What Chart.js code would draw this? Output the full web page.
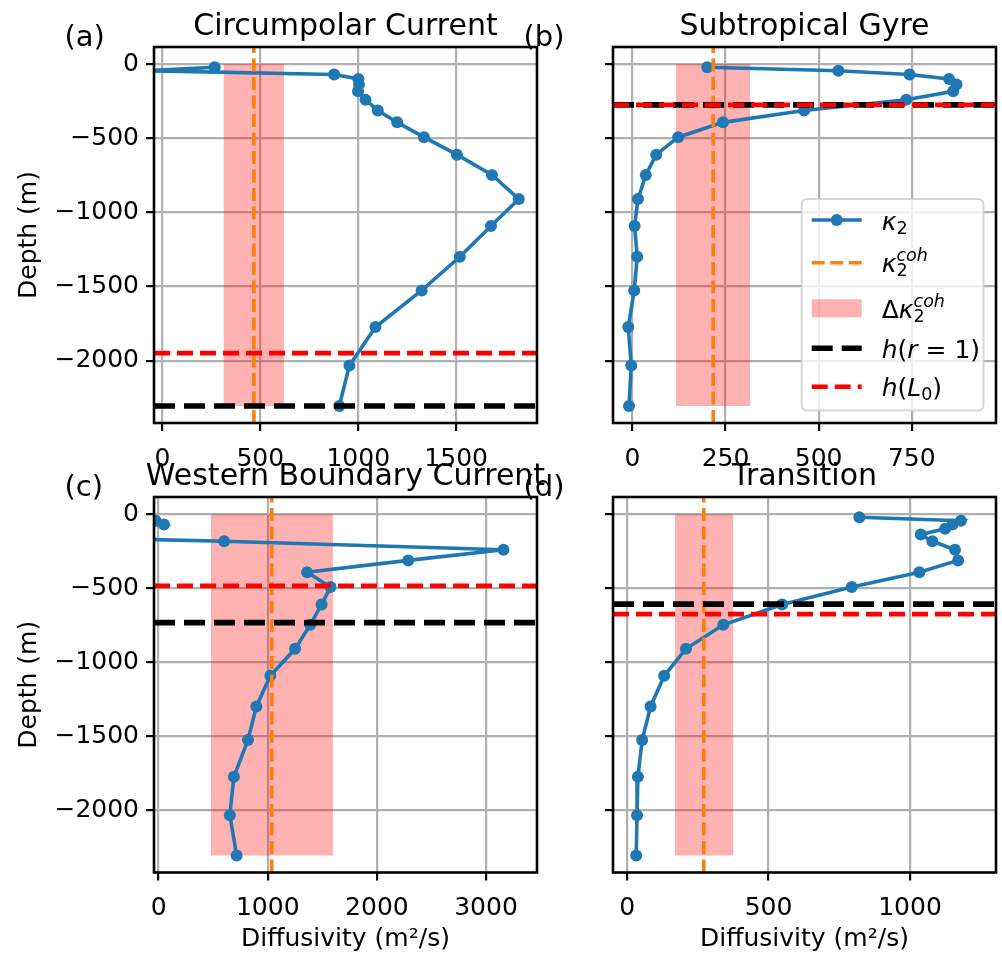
<!DOCTYPE html>
<html>
<head>
<meta charset="utf-8">
<script src="https://cdn.jsdelivr.net/npm/chart.js@4.4.0/dist/chart.umd.min.js"></script>
<style>
  html, body { margin: 0; padding: 0; background: #fff; }
  #wrap { position: relative; width: 1002px; height: 953px; }
  #wrap canvas { position: absolute; left: 0; top: 0; }
</style>
</head>
<body>
<div id="wrap">
  <canvas id="pA" width="1002" height="953"></canvas>
  <canvas id="pB" width="1002" height="953"></canvas>
  <canvas id="pC" width="1002" height="953"></canvas>
  <canvas id="pD" width="1002" height="953"></canvas>
</div>
<script>
/* profiles of kappa_2 against depth, one per region */
const depthLevels = [-22, -45, -70, -100, -138, -184, -241, -313, -393, -493, -611, -748, -910, -1092, -1299, -1526, -1773, -2033, -2305];
const kappaCirc  = [267, -75, 877, 1001, 1004, 999, 1037, 1100, 1199, 1336, 1504, 1683, 1820, 1678, 1519, 1324, 1088, 955, 903];
const kappaGyre  = [201, 553, 744, 850, 870, 861, 735, 461, 243, 123, 64, 36, 15, 6, 13, 5, -11, -3, -9];
const kappaWbc   = [-150, -27, 49, -2000, -2000, 601, 3160, 2287, 1361, 1575, 1493, 1389, 1251, 1024, 896, 819, 690, 653, 715];
const kappaTrans = [821, 1180, 1150, 1124, 1038, 1079, 1159, 1170, 1033, 794, 548, 340, 208, 131, 83, 53, 38, 35, 32];

// coherent estimate, its spread, and the two reference depths
const kappaCoh     = [467, 217, 1037, 271];
const kappaCohLow  = [313, 117, 479, 169];
const kappaCohHigh = [621, 316, 1597, 375];
const depthR1 = [-2305, -275, -733, -608];
const depthL0 = [-1949, -275, -485, -676];

const titles = ['Circumpolar Current', 'Subtropical Gyre', 'Western Boundary Current', 'Transition'];
const tags = ['(a)', '(b)', '(c)', '(d)'];
const xTicks = [[0, 500, 1000, 1500], [0, 250, 500, 750], [0, 1000, 2000, 3000], [0, 500, 1000]];
const yTicks = [0, -500, -1000, -1500, -2000];
const xLimits = [[-43, 1913], [-52, 976], [-42, 3467], [-50, 1304]];
const yLimits = [-2420, 115];

const FONT = "'DejaVu Sans', sans-serif";
const W = 1002, H = 953;

// plot frames in page pixels
const frames = [
  {l: 154, t: 47, r: 537, b: 423},
  {l: 613, t: 47, r: 996, b: 423},
  {l: 154, t: 497, r: 537, b: 872.5},
  {l: 613, t: 497, r: 996, b: 872.5}
];

const fmt = v => v < 0 ? '\u2212' + Math.abs(v) : String(v);

/* --- little mathtext helper: pieces drawn left to right, stacks share x --- */
function drawMath(ctx, x, y, pieces, size) {
  pieces.forEach(p => {
    const items = p.stack || [p];
    let adv = 0;
    items.forEach(it => {
      const s = size * (it.sc || 1);
      ctx.font = (it.it ? 'italic ' : '') + s + 'px ' + FONT;
      ctx.fillText(it.t, x, y + (it.dy || 0));
      adv = Math.max(adv, ctx.measureText(it.t).width);
    });
    x += adv;
  });
  return x;
}

const SUB2 = {t: '2', sc: 0.7, dy: 4};
const SUPCOH = {t: 'coh', it: true, sc: 0.7, dy: -11};
const legendRows = [
  {kind: 'kappa', label: [{t: '\u03ba', it: true}, SUB2]},
  {kind: 'coh', label: [{t: '\u03ba', it: true}, {stack: [SUB2, SUPCOH]}]},
  {kind: 'band', label: [{t: '\u0394'}, {t: '\u03ba', it: true}, {stack: [SUB2, SUPCOH]}]},
  {kind: 'r1', label: [{t: 'h', it: true}, {t: '('}, {t: 'r', it: true}, {t: ' = 1)'}]},
  {kind: 'l0', label: [{t: 'h', it: true}, {t: '('}, {t: 'L', it: true}, {t: '0', sc: 0.7, dy: 4}, {t: ')'}]}
];

function drawLegend(ctx) {
  const left = 801.7, top = 199, right = 983.5, bottom = 410.5;
  const hx0 = left + 10, hx1 = hx0 + 50, tx = hx1 + 20;
  const handleY = [220, 262.7, 308.3, 348.3, 386.7];
  ctx.save();
  ctx.beginPath();
  ctx.roundRect(left, top, right - left, bottom - top, 5);
  ctx.fillStyle = 'rgba(255,255,255,0.8)';
  ctx.fill();
  ctx.lineWidth = 2;
  ctx.strokeStyle = 'rgba(204,204,204,0.8)';
  ctx.stroke();
  legendRows.forEach((r, i) => {
    const y = handleY[i];
    ctx.setLineDash([]);
    if (r.kind === 'kappa') {
      ctx.strokeStyle = '#1f77b4'; ctx.lineWidth = 3.6;
      ctx.beginPath(); ctx.moveTo(hx0, y); ctx.lineTo(hx1, y); ctx.stroke();
      ctx.fillStyle = '#1f77b4';
      ctx.beginPath(); ctx.arc((hx0 + hx1) / 2, y, 6, 0, Math.PI * 2); ctx.fill();
    } else if (r.kind === 'band') {
      ctx.fillStyle = 'rgba(255,0,0,0.3)';
      ctx.fillRect(hx0, y - 9, 50, 18);
    } else {
      const st = {coh: ['#ff7f0e', 3.6, [13, 5.5]], r1: ['#000000', 5.6, [21, 9]], l0: ['#ff0000', 4.6, [16, 7]]}[r.kind];
      ctx.strokeStyle = st[0]; ctx.lineWidth = st[1]; ctx.setLineDash(st[2]);
      ctx.beginPath(); ctx.moveTo(hx0, y); ctx.lineTo(hx1, y); ctx.stroke();
    }
    ctx.fillStyle = '#000';
    ctx.textAlign = 'left'; ctx.textBaseline = 'alphabetic';
    drawMath(ctx, tx, y + 9.5, r.label, 25);
  });
  ctx.restore();
}

function decor(i) {
  const f = frames[i];
  return {
    id: 'decor',
    afterDraw(chart) {
      const ctx = chart.ctx;
      ctx.save();
      ctx.setLineDash([]);
      ctx.strokeStyle = '#000';
      ctx.lineWidth = 2.6;
      ctx.strokeRect(f.l, f.t, f.r - f.l, f.b - f.t);
      ctx.fillStyle = '#000';
      ctx.textBaseline = 'alphabetic';
      ctx.textAlign = 'center';
      ctx.font = '30px ' + FONT;
      ctx.fillText(titles[i], (f.l + f.r) / 2, f.t - 12.5);
      ctx.textAlign = 'left';
      ctx.font = '29px ' + FONT;
      ctx.fillText(tags[i], f.l - 89.5, f.t - 1);
      ctx.font = '25px ' + FONT;
      if (i % 2 === 0) {
        ctx.save();
        ctx.translate(36, (f.t + f.b) / 2);
        ctx.rotate(-Math.PI / 2);
        ctx.textAlign = 'center';
        ctx.fillText('Depth (m)', 0, 0);
        ctx.restore();
      }
      if (i >= 2) {
        ctx.textAlign = 'center';
        ctx.fillText('Diffusivity (m\u00b2/s)', (f.l + f.r) / 2, 946);
      }
      if (i === 1) drawLegend(ctx);
      ctx.restore();
    }
  };
}

function makePanel(id, i, kappa) {
  const f = frames[i];
  const [xMin, xMax] = xLimits[i];
  const [yMin, yMax] = yLimits;
  const bottomDepth = depthLevels[depthLevels.length - 1];
  const lo = kappaCohLow[i], hi = kappaCohHigh[i];
  const gridOpts = {color: '#b0b0b0', lineWidth: 2.2, tickColor: '#000', tickLength: 8, tickWidth: 2.2};
  const tickFont = {family: FONT, size: 25};
  return new Chart(document.getElementById(id), {
    type: 'scatter',
    data: {
      datasets: [
        { // spread of the coherent estimate
          data: [{x: lo, y: 0}, {x: hi, y: 0}, {x: hi, y: bottomDepth}, {x: lo, y: bottomDepth}, {x: lo, y: 0}],
          showLine: true, fill: 'shape', borderWidth: 0, pointRadius: 0,
          borderColor: 'rgba(255,0,0,0)', backgroundColor: 'rgba(255,0,0,0.3)', order: 4, clip: 0
        },
        {
          data: depthLevels.map((d, j) => ({x: kappa[j], y: d})),
          showLine: true, borderColor: '#1f77b4', backgroundColor: '#1f77b4',
          borderWidth: 3.6, pointRadius: 6, pointBorderWidth: 0, order: 3, clip: 0
        },
        {
          data: [{x: kappaCoh[i], y: yMin}, {x: kappaCoh[i], y: yMax}],
          showLine: true, borderColor: '#ff7f0e', borderWidth: 3.6, borderDash: [13, 5.5],
          pointRadius: 0, order: 2, clip: 0
        },
        {
          data: [{x: xMin, y: depthR1[i]}, {x: xMax, y: depthR1[i]}],
          showLine: true, borderColor: '#000000', borderWidth: 5.6, borderDash: [21, 9],
          pointRadius: 0, order: 1, clip: 0
        },
        {
          data: [{x: xMin, y: depthL0[i]}, {x: xMax, y: depthL0[i]}],
          showLine: true, borderColor: '#ff0000', borderWidth: 4.6, borderDash: [16, 7],
          pointRadius: 0, order: 0, clip: 0
        }
      ]
    },
    options: {
      responsive: false, animation: false, devicePixelRatio: 1,
      events: [],
      layout: {padding: {left: f.l - 100, top: f.t, right: W - f.r, bottom: H - f.b - 50}},
      plugins: {legend: {display: false}, tooltip: {enabled: false}, title: {display: false}},
      scales: {
        x: {
          type: 'linear', min: xMin, max: xMax,
          afterBuildTicks: s => { s.ticks = xTicks[i].map(v => ({value: v})); },
          afterFit: s => { s.height = 50; },
          grid: gridOpts, border: {display: false},
          ticks: {color: '#000', font: tickFont, padding: 13, maxRotation: 0, callback: fmt}
        },
        y: {
          type: 'linear', min: yMin, max: yMax,
          afterBuildTicks: s => { s.ticks = yTicks.map(v => ({value: v})); },
          afterFit: s => { s.width = 100; },
          grid: gridOpts, border: {display: false},
          ticks: {display: i % 2 === 0, color: '#000', font: tickFont, padding: 7, callback: fmt}
        }
      }
    },
    plugins: [decor(i)]
  });
}

makePanel('pA', 0, kappaCirc);
makePanel('pB', 1, kappaGyre);
makePanel('pC', 2, kappaWbc);
makePanel('pD', 3, kappaTrans);
</script>
</body>
</html>
